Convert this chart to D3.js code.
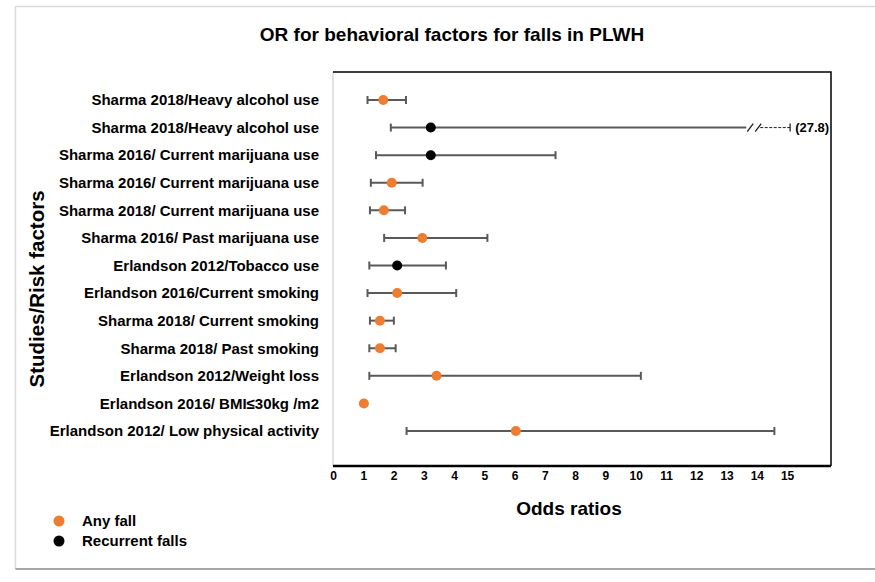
<!DOCTYPE html>
<html>
<head>
<meta charset="utf-8">
<script src="https://cdn.jsdelivr.net/npm/d3@7"></script>
<style>
  body { margin: 0; background: #fff; }
  text { font-family: "Liberation Sans", Arial, sans-serif; font-weight: bold; fill: #000; }
</style>
</head>
<body>
<div id="chart"></div>
<script>
// rows, top to bottom
let studies = [
    "Sharma 2018/Heavy alcohol use",
    "Sharma 2018/Heavy alcohol use",
    "Sharma 2016/ Current marijuana use",
    "Sharma 2016/ Current marijuana use",
    "Sharma 2018/ Current marijuana use",
    "Sharma 2016/ Past marijuana use",
    "Erlandson 2012/Tobacco use",
    "Erlandson 2016/Current smoking",
    "Sharma 2018/ Current smoking",
    "Sharma 2018/ Past smoking",
    "Erlandson 2012/Weight loss",
    "Erlandson 2016/ BMI\u226430kg /m2",
    "Erlandson 2012/ Low physical activity"
];
let oddsRatio = [1.66, 3.23, 3.23, 1.94, 1.68, 2.95, 2.12, 2.12, 1.55, 1.55, 3.42, 1.02, 6.04];
let ciLow     = [1.14, 1.91, 1.42, 1.25, 1.22, 1.69, 1.20, 1.14, 1.22, 1.20, 1.20, null, 2.43];
let ciHigh    = [2.41, 27.8, 7.35, 2.96, 2.38, 5.10, 3.73, 4.07, 2.01, 2.07, 10.17, null, 14.58];
let outcome   = ["any", "rec", "rec", "any", "any", "any", "rec", "any", "any", "any", "any", "any", "any"];
let xTicks = [0, 1, 2, 3, 4, 5, 6, 7, 8, 9, 10, 11, 12, 13, 14, 15];

// broken upper CI: solid up to breakAt, dashed to breakEnd, labelled with real value
let breakAt = 13.65;
let breakEnd = 15.1;

let legendKeys = ["any", "rec"];
let legendLabels = ["Any fall", "Recurrent falls"];
let colors = { any: "#ed7d31", rec: "#000000" };

let svgWidth = 875;
let svgHeight = 582;

let plot = { left: 333, right: 831, top: 72, bottom: 466 };

let svg = d3.select("#chart")
    .append("svg")
    .attr("width", svgWidth)
    .attr("height", svgHeight);

// outer chart-area border
svg.append("line")
    .attr("x1", 15.5).attr("x2", svgWidth).attr("y1", 6.5).attr("y2", 6.5)
    .attr("stroke", "#d9d9d9").attr("stroke-width", 1.5);
svg.append("line")
    .attr("x1", 15.5).attr("x2", 15.5).attr("y1", 6.5).attr("y2", 569)
    .attr("stroke", "#d9d9d9").attr("stroke-width", 1.5);
svg.append("line")
    .attr("x1", 15.5).attr("x2", svgWidth).attr("y1", 569).attr("y2", 569)
    .attr("stroke", "#a6a6a6").attr("stroke-width", 2);

let x = d3.scaleLinear()
    .domain([0, 16.45])
    .range([plot.left, plot.right]);

let y = d3.scalePoint()
    .domain(d3.range(studies.length))
    .range([100, 431]);

let rows = studies.map((s, i) => ({
    i: i,
    label: s,
    or: oddsRatio[i],
    lo: ciLow[i],
    hi: ciHigh[i],
    type: outcome[i]
}));

// frame
svg.append("line")
    .attr("x1", plot.left).attr("x2", plot.left)
    .attr("y1", plot.top).attr("y2", plot.bottom)
    .attr("stroke", "#d9d9d9").attr("stroke-width", 1.5);
svg.append("path")
    .attr("d", `M${plot.left},${plot.top}H${plot.right}V${plot.bottom}`)
    .attr("fill", "none").attr("stroke", "#000").attr("stroke-width", 1.5);

// x axis
let bottomAxis = d3.axisBottom(x)
    .tickValues(xTicks)
    .tickSize(0)
    .tickPadding(5)
    .tickFormat(d3.format("d"));

let xAxis = svg.append("g")
    .attr("transform", `translate(0,${plot.bottom})`)
    .call(bottomAxis);
xAxis.select(".domain")
    .attr("d", `M${plot.left},0H${plot.right}`)
    .attr("stroke", "#000").attr("stroke-width", 2.5);
xAxis.selectAll("text")
    .style("font-family", "Liberation Sans, Arial, sans-serif")
    .style("font-weight", "bold")
    .style("font-size", "12px");

// y labels
let leftAxis = d3.axisLeft(y)
    .tickSize(0)
    .tickPadding(14)
    .tickFormat(i => studies[i]);

let yAxis = svg.append("g")
    .attr("transform", `translate(${plot.left},0)`)
    .call(leftAxis);
yAxis.select(".domain").remove();
yAxis.selectAll("text")
    .style("font-family", "Liberation Sans, Arial, sans-serif")
    .style("font-weight", "bold")
    .style("font-size", "15px");

// error bars
let barColor = "#595959";
let capH = 4;
let ciRows = rows.filter(d => d.lo !== null);

let bars = svg.append("g");
ciRows.forEach(function(d) {
    let cy = y(d.i);
    let broken = d.hi > breakEnd;
    let hiEnd = broken ? breakAt : d.hi;
    bars.append("line")
        .attr("x1", x(d.lo)).attr("x2", x(hiEnd))
        .attr("y1", cy).attr("y2", cy)
        .attr("stroke", barColor).attr("stroke-width", 2);
    bars.append("line")
        .attr("x1", x(d.lo)).attr("x2", x(d.lo))
        .attr("y1", cy - capH).attr("y2", cy + capH)
        .attr("stroke", barColor).attr("stroke-width", 2);
    if (!broken) {
        bars.append("line")
            .attr("x1", x(d.hi)).attr("x2", x(d.hi))
            .attr("y1", cy - capH).attr("y2", cy + capH)
            .attr("stroke", barColor).attr("stroke-width", 2);
    } else {
        let bx = x(breakAt);
        // break marks //
        [4, 12].forEach(function(off) {
            bars.append("line")
                .attr("x1", bx + off - 3).attr("x2", bx + off + 3)
                .attr("y1", cy + 4).attr("y2", cy - 4)
                .attr("stroke", "#222").attr("stroke-width", 1.3);
        });
        bars.append("line")
            .attr("x1", bx + 14).attr("x2", x(breakEnd))
            .attr("y1", cy).attr("y2", cy)
            .attr("stroke", "#222").attr("stroke-width", 1)
            .attr("stroke-dasharray", "3,1.5");
        bars.append("line")
            .attr("x1", x(breakEnd)).attr("x2", x(breakEnd))
            .attr("y1", cy - capH).attr("y2", cy + capH)
            .attr("stroke", "#222").attr("stroke-width", 1.3);
        bars.append("text")
            .attr("x", x(breakEnd) + 5)
            .attr("y", cy + 4.5)
            .style("font-size", "13px")
            .text(`(${d.hi})`);
    }
});

// points
svg.append("g")
    .selectAll("circle")
    .data(rows)
    .enter()
    .append("circle")
    .attr("cx", d => x(d.or))
    .attr("cy", d => y(d.i))
    .attr("r", 5)
    .attr("fill", d => colors[d.type]);

// title
svg.append("text")
    .attr("x", 452)
    .attr("y", 41)
    .attr("text-anchor", "middle")
    .style("font-size", "19px")
    .text("OR for behavioral factors for falls in PLWH");

// axis titles
svg.append("text")
    .attr("x", 569)
    .attr("y", 515)
    .attr("text-anchor", "middle")
    .style("font-size", "19px")
    .text("Odds ratios");

svg.append("text")
    .attr("transform", "rotate(-90)")
    .attr("x", -289)
    .attr("y", 44)
    .attr("text-anchor", "middle")
    .style("font-size", "20.5px")
    .text("Studies/Risk factors");

// legend
let legend = svg.append("g");
legendKeys.forEach(function(k, i) {
    let ly = 521 + i * 20;
    legend.append("circle")
        .attr("cx", 59).attr("cy", ly).attr("r", 5.5)
        .attr("fill", colors[k]);
    legend.append("text")
        .attr("x", 82).attr("y", ly + 5)
        .style("font-size", "15px")
        .text(legendLabels[i]);
});
</script>
</body>
</html>
